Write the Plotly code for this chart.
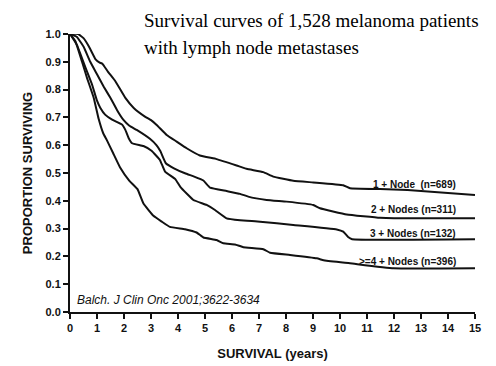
import plotly.graph_objects as go

# ---- data ----
t_1node = [0, 0.3, 0.5, 0.7, 0.94, 1.1, 1.2, 1.4, 1.68, 2.05, 2.36, 2.79, 3.0, 3.21, 3.58, 3.95, 4.32,
           4.81, 5.43, 6.17, 6.54, 7.16, 7.53, 8.27, 9.01, 10.12, 10.37, 11.48, 12.5, 15]
p_1node = [1.0, 1.0, 0.985, 0.955, 0.91, 0.897, 0.893, 0.865, 0.83, 0.77, 0.734, 0.702, 0.69, 0.673, 0.637,
           0.613, 0.589, 0.563, 0.55, 0.527, 0.515, 0.503, 0.487, 0.472, 0.466, 0.456, 0.445, 0.442, 0.439, 0.421]

t_2nodes = [0, 0.25, 0.5, 0.75, 1.0, 1.25, 1.5, 1.75, 1.98, 2.2, 2.47, 2.96, 3.2, 3.35, 3.55, 3.85, 4.26,
            4.6, 4.94, 5.19, 5.8, 6.3, 6.6, 7.28, 8.02, 9.01, 9.26, 10.25, 11.48, 12.0, 15]
p_2nodes = [1.0, 0.99, 0.955, 0.9, 0.855, 0.81, 0.77, 0.725, 0.691, 0.67, 0.655, 0.623, 0.6, 0.578, 0.535,
            0.517, 0.499, 0.487, 0.473, 0.447, 0.435, 0.425, 0.415, 0.403, 0.397, 0.385, 0.373, 0.351,
            0.339, 0.337, 0.337]

t_3nodes = [0, 0.26, 0.57, 0.81, 1.0, 1.12, 1.3, 1.56, 1.93, 2.05, 2.17, 2.3, 2.72, 3.02, 3.33, 3.52, 3.9,
            4.1, 4.57, 5.06, 5.37, 5.8, 6.3, 7.04, 8.27, 9.88, 10.12, 10.3, 10.45, 15]
p_3nodes = [1.0, 0.96, 0.88, 0.82, 0.76, 0.735, 0.71, 0.692, 0.674, 0.655, 0.626, 0.607, 0.597, 0.58,
            0.547, 0.505, 0.478, 0.448, 0.403, 0.385, 0.367, 0.337, 0.33, 0.325, 0.313, 0.297, 0.289,
            0.27, 0.262, 0.262]

t_4nodes = [0, 0.2, 0.44, 0.63, 0.88, 1.06, 1.23, 1.36, 1.6, 1.85, 2.2, 2.5, 2.72, 3.09, 3.4, 3.7, 4.26,
            4.69, 4.94, 5.43, 5.68, 6.11, 6.42, 7.16, 7.41, 8.15, 9.14, 9.44, 10.37, 11.98, 15]
p_4nodes = [1.0, 0.974, 0.902, 0.842, 0.77, 0.695, 0.643, 0.619, 0.571, 0.521, 0.472, 0.442, 0.39, 0.346,
            0.325, 0.306, 0.298, 0.286, 0.268, 0.259, 0.247, 0.243, 0.233, 0.226, 0.213, 0.205, 0.193,
            0.185, 0.175, 0.157, 0.157]

series_labels = ["1 + Node  (n=689)", "2 + Nodes (n=311)", "3 + Nodes (n=132)", ">=4 + Nodes (n=396)"]
label_y = [0.457, 0.369, 0.283, 0.182]
label_x = 14.37

x_ticks = list(range(0, 16))
y_ticks = [i / 10 for i in range(0, 11)]

title_lines = ["Survival curves of 1,528 melanoma patients", "with lymph node metastases"]
citation = "Balch. J Clin Onc 2001;3622-3634"

# ---- figure ----
fig = go.Figure()
for tx, py in [(t_1node, p_1node), (t_2nodes, p_2nodes), (t_3nodes, p_3nodes), (t_4nodes, p_4nodes)]:
    fig.add_trace(go.Scatter(x=tx, y=py, mode="lines",
                             line=dict(color="#111111", width=2, shape="spline", smoothing=0.3),
                             showlegend=False, hoverinfo="skip"))

sans = "Liberation Sans, Arial, sans-serif"
for lab, ly in zip(series_labels, label_y):
    fig.add_annotation(x=label_x, y=ly, text=lab, showarrow=False, xanchor="right", yanchor="middle",
                       font=dict(family=sans, size=10, color="#111111", weight="bold"))

fig.add_annotation(x=0.2, y=0.043, text=citation, showarrow=False, xanchor="left", yanchor="middle",
                   font=dict(family=sans, size=12, color="#111111", style="italic"))

# plot area: 405 x 278 px, body margin of the page is 8 px
PW, PH = 405, 278
serif = "Liberation Serif, Times New Roman, serif"
fig.add_annotation(xref="paper", yref="paper", x=(142 - 70) / PW, y=(312 - 20) / PH,
                   text=title_lines[0], showarrow=False, xanchor="left", yanchor="middle",
                   font=dict(family=serif, size=19, color="#000000"))
fig.add_annotation(xref="paper", yref="paper", x=(142 - 70) / PW, y=(312 - 47) / PH,
                   text=title_lines[1], showarrow=False, xanchor="left", yanchor="middle",
                   font=dict(family=serif, size=19, color="#000000"))

fig.update_layout(
    width=488, height=358,
    margin=dict(l=62, r=21, t=26, b=54, autoexpand=False),
    paper_bgcolor="white", plot_bgcolor="white",
    xaxis=dict(range=[0, 15], tickvals=x_ticks, ticktext=[str(v) for v in x_ticks],
               showgrid=False, zeroline=False, showline=True, linecolor="#111111", linewidth=2,
               ticks="outside", ticklen=5, tickwidth=1.5, tickcolor="#111111", automargin=False,
               tickfont=dict(family=sans, size=11, color="#111111", weight="bold"),
               title=dict(text="SURVIVAL (years)", standoff=16,
                          font=dict(family=sans, size=13, color="#111111", weight="bold"))),
    yaxis=dict(range=[0, 1.0], tickvals=y_ticks, ticktext=[f"{v:.1f}" for v in y_ticks],
               showgrid=False, zeroline=False, showline=True, linecolor="#111111", linewidth=2,
               ticks="outside", ticklen=5, tickwidth=1.5, tickcolor="#111111", automargin=False,
               tickfont=dict(family=sans, size=11, color="#111111", weight="bold"),
               title=dict(text="PROPORTION SURVIVING", standoff=10,
                          font=dict(family=sans, size=13, color="#111111", weight="bold"))),
)

fig.write_html("out.html")
